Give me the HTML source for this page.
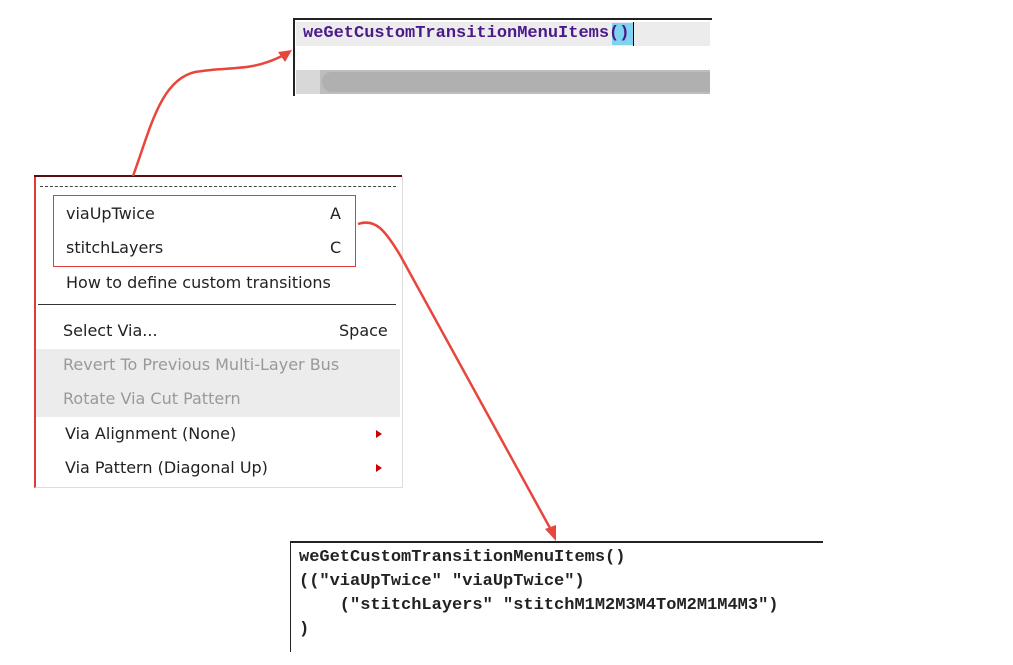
<!DOCTYPE html>
<html><head><style>
body{margin:0;width:1013px;height:665px;background:#fff;position:relative;overflow:hidden;font-family:"DejaVu Sans","Liberation Sans",sans-serif}
.a{position:absolute}
.mono{font-family:"Liberation Mono","DejaVu Sans Mono",monospace;font-weight:bold}
.mi{position:absolute;font-size:16px;color:#222;white-space:nowrap}
</style></head><body>
<!-- top box -->
<div class="a" style="left:293px;top:18px;width:417px;height:76px;border-left:2px solid #222;border-top:2px solid #222;background:#fff"></div>
<div class="a" style="left:296px;top:22px;width:414px;height:24px;background:#ececec"></div>
<div class="a" style="left:612px;top:23px;width:21px;height:22px;background:#7fd3f0"></div>
<div class="a" style="left:633px;top:22px;width:1px;height:24px;background:#000"></div>
<div class="a mono" style="left:303px;top:24px;font-size:17px;color:#4b1a8a">weGetCustomTransitionMenuItems()</div>
<div class="a" style="left:296px;top:70px;width:414px;height:24px;background:#bdbdbd"></div>
<div class="a" style="left:296px;top:70px;width:24px;height:24px;background:#d8d8d8"></div>
<div class="a" style="left:322px;top:72px;width:388px;height:20px;background:#b0b0b0;border-radius:10px 0 0 10px"></div>
<!-- menu -->
<div class="a" style="left:34px;top:176px;width:366px;height:311px;border-left:2px solid #e03a3a;border-right:1px solid #ddd;border-bottom:1px solid #ddd;background:#fff"></div>
<div class="a" style="left:34px;top:175px;width:368px;height:2px;background:#5a0d0d"></div>
<div class="a" style="left:40px;top:186px;width:356px;border-top:1px dashed #444"></div>
<div class="a" style="left:53px;top:195px;width:301px;height:70px;border:1px solid #e03a3a"></div>
<div class="mi" style="left:66px;top:204px">viaUpTwice</div>
<div class="mi" style="left:330px;top:204px">A</div>
<div class="mi" style="left:66px;top:238px">stitchLayers</div>
<div class="mi" style="left:330px;top:238px">C</div>
<div class="mi" style="left:66px;top:273px">How to define custom transitions</div>
<div class="a" style="left:38px;top:304px;width:358px;height:1px;background:#333"></div>
<div class="mi" style="left:63px;top:321px">Select Via...</div>
<div class="mi" style="left:339px;top:321px">Space</div>
<div class="a" style="left:36px;top:349px;width:364px;height:68px;background:#ececec"></div>
<div class="mi" style="left:63px;top:355px;color:#999">Revert To Previous Multi-Layer Bus</div>
<div class="mi" style="left:63px;top:389px;color:#999">Rotate Via Cut Pattern</div>
<div class="mi" style="left:65px;top:424px">Via Alignment (None)</div>
<div class="mi" style="left:65px;top:458px">Via Pattern (Diagonal Up)</div>
<div class="a" style="left:376px;top:430px;border-left:6px solid #c00;border-top:4px solid transparent;border-bottom:4px solid transparent"></div>
<div class="a" style="left:376px;top:464px;border-left:6px solid #c00;border-top:4px solid transparent;border-bottom:4px solid transparent"></div>
<!-- bottom box -->
<div class="a" style="left:290px;top:541px;width:532px;height:109px;border-left:1px solid #222;border-top:2px solid #222"></div>
<div class="a mono" style="left:299px;top:546px;font-size:17px;line-height:24px;color:#222;white-space:pre">weGetCustomTransitionMenuItems()
(("viaUpTwice" "viaUpTwice")
    ("stitchLayers" "stitchM1M2M3M4ToM2M1M4M3")
)</div>
<!-- arrows -->
<svg class="a" style="left:0;top:0" width="1013" height="665">
<g fill="none" stroke="#e8453c" stroke-width="2.5">
<path d="M133 176 C150 130 160 80 195 72 C230 66 250 72 282 56"/>
<path d="M358 224 C375 218 385 230 400 255 L550 528"/>
</g>
<polygon points="292,50 278,52 285,62" fill="#e8453c"/>
<polygon points="556,541 545,529 556,525" fill="#e8453c"/>
</svg>
</body></html>
